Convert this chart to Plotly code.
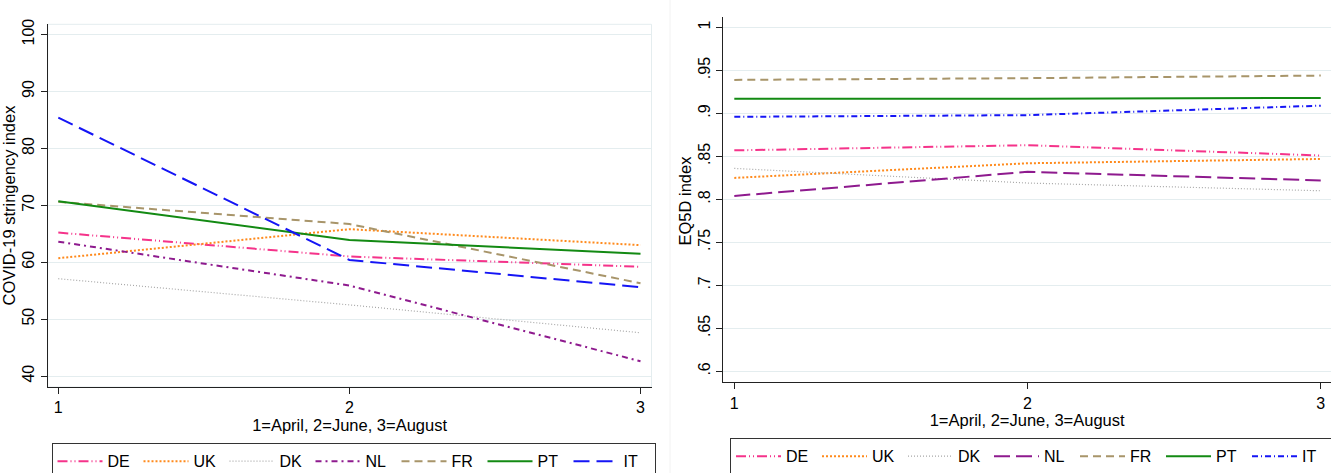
import plotly.graph_objects as go

# ---------------- data ----------------
periods = [1, 2, 3]
countries = ["DE", "UK", "DK", "NL", "FR", "PT", "IT"]

# Left panel: COVID-19 stringency index
stringency_DE = [65.2, 61.0, 59.2]
stringency_UK = [60.7, 65.8, 63.0]
stringency_DK = [57.1, 52.5, 47.6]
stringency_NL = [63.6, 55.9, 42.6]
stringency_FR = [70.6, 66.7, 56.3]
stringency_PT = [70.7, 63.9, 61.5]
stringency_IT = [85.4, 60.4, 55.6]

# Right panel: EQ5D index
eq5d_DE = [0.857, 0.863, 0.851]
eq5d_UK = [0.825, 0.842, 0.847]
eq5d_DK = [0.836, 0.819, 0.810]
eq5d_NL = [0.804, 0.832, 0.822]
eq5d_FR = [0.939, 0.941, 0.944]
eq5d_PT = [0.917, 0.917, 0.918]
eq5d_IT = [0.896, 0.898, 0.909]

left_yticks = [40, 50, 60, 70, 80, 90, 100]
right_yticks = [0.6, 0.65, 0.7, 0.75, 0.8, 0.85, 0.9, 0.95, 1.0]
right_yticklabels = [".6", ".65", ".7", ".75", ".8", ".85", ".9", ".95", "1"]
x_ticks = [1, 2, 3]
x_title = "1=April, 2=June, 3=August"
left_ytitle = "COVID-19 stringency index"
right_ytitle = "EQ5D index"

stringency = {"DE": stringency_DE, "UK": stringency_UK, "DK": stringency_DK,
              "NL": stringency_NL, "FR": stringency_FR, "PT": stringency_PT,
              "IT": stringency_IT}
eq5d = {"DE": eq5d_DE, "UK": eq5d_UK, "DK": eq5d_DK, "NL": eq5d_NL,
        "FR": eq5d_FR, "PT": eq5d_PT, "IT": eq5d_IT}

# ---------------- styles ----------------
colors = {"DE": "#F5338A", "UK": "#FF8A1C", "DK": "#A8A8A8", "NL": "#8E1A8E",
          "FR": "#A8956A", "PT": "#138A13", "IT": "#1515F5"}
left_dash = {"DE": "10px,3px,1px,3px,1px,3px", "UK": "2px,2px", "DK": "1px,2px",
             "NL": "6px,4px,2px,4px", "FR": "8px,5px", "PT": "solid",
             "IT": "16px,7px"}
right_dash = {"DE": "10px,3px,1px,3px,1px,3px", "UK": "2px,2px", "DK": "1px,2px",
              "NL": "16px,6px", "FR": "8px,5px", "PT": "solid",
              "IT": "6px,3px,1px,3px"}
widths = {"DE": 2, "UK": 2, "DK": 1.2, "NL": 2, "FR": 2, "PT": 2, "IT": 2}

W, H = 1331, 473


def xp(px):
    return px / W


def yp(py):
    return 1 - py / H


FONT = "Liberation Sans, Arial, sans-serif"
TICK = 16
TITLE = 16.5

fig = go.Figure()
for c in countries:
    fig.add_trace(go.Scatter(
        x=periods, y=stringency[c], name=c, mode="lines",
        line=dict(color=colors[c], dash=left_dash[c], width=widths[c]),
        xaxis="x", yaxis="y", legend="legend"))
for c in countries:
    fig.add_trace(go.Scatter(
        x=periods, y=eq5d[c], name=c, mode="lines",
        line=dict(color=colors[c], dash=right_dash[c], width=widths[c]),
        xaxis="x2", yaxis="y2", legend="legend2"))

axis_common = dict(showline=True, linecolor="#222222", linewidth=1,
                   ticks="outside", ticklen=6, tickcolor="#222222",
                   zeroline=False, ticklabeloverflow="allow",
                   tickfont=dict(size=TICK, color="black"))

legend_common = dict(orientation="h", xanchor="left", yanchor="top",
                     bordercolor="#333333", borderwidth=1, bgcolor="white",
                     font=dict(size=16, color="black"), itemwidth=45,
                     entrywidth=26, entrywidthmode="pixels",
                     traceorder="normal")

fig.update_layout(
    width=W, height=H,
    margin=dict(l=0, r=0, t=0, b=0, autoexpand=False),
    paper_bgcolor="white", plot_bgcolor="white",
    font=dict(family=FONT, color="black"),
    xaxis=dict(domain=[xp(47.7), xp(651.5)], anchor="y",
               range=[0.9636, 3.0378], tickvals=x_ticks,
               showgrid=False,
               title=dict(text=x_title, font=dict(size=TITLE), standoff=3),
               **axis_common),
    yaxis=dict(domain=[yp(387), yp(24.3)], anchor="x",
               range=[38.07, 101.8], tickvals=left_yticks, tickangle=-90,
               showgrid=True, gridcolor="#E4EDEF", gridwidth=1,
               **axis_common),
    xaxis2=dict(domain=[xp(723.3), 1.0], anchor="y2",
                range=[0.9625, 3.035], tickvals=x_ticks,
                showgrid=False,
                title=dict(text=x_title, font=dict(size=TITLE), standoff=3),
                **axis_common),
    yaxis2=dict(domain=[yp(382.3), yp(16.7)], anchor="x2",
                range=[0.5872, 1.0125], tickvals=right_yticks,
                ticktext=right_yticklabels, tickangle=-90,
                showgrid=True, gridcolor="#E4EDEF", gridwidth=1,
                **axis_common),
    legend=dict(x=xp(51.5), y=yp(443.3), **legend_common),
    legend2=dict(x=xp(730), y=yp(438.3), **legend_common),
    showlegend=True,
)

# y-axis titles (rotated, placed beside the tick labels)
fig.add_annotation(text=left_ytitle, textangle=-90, showarrow=False,
                   xref="paper", yref="paper", x=xp(9), y=yp(205.5),
                   xanchor="center", yanchor="middle",
                   font=dict(size=TITLE, color="black"))
fig.add_annotation(text=right_ytitle, textangle=-90, showarrow=False,
                   xref="paper", yref="paper", x=xp(684.5), y=yp(201),
                   xanchor="center", yanchor="middle",
                   font=dict(size=TITLE, color="black"))

# faint plot-region outline of the left graph and faint divider between graphs
fig.add_shape(type="rect", xref="x domain", yref="y domain",
              x0=0, x1=1, y0=0, y1=1,
              line=dict(color="#E4EDEF", width=1), layer="below")
fig.add_shape(type="line", xref="paper", yref="paper",
              x0=xp(670), x1=xp(670), y0=0, y1=1,
              line=dict(color="#F2F2F2", width=1), layer="below")

# remove the browser's default 8px body margin so the figure fills the window
fig.write_html("out.html",
               config={"displayModeBar": False},
               post_script="document.body.style.margin='0px';"
                           "document.body.style.overflow='hidden';")
